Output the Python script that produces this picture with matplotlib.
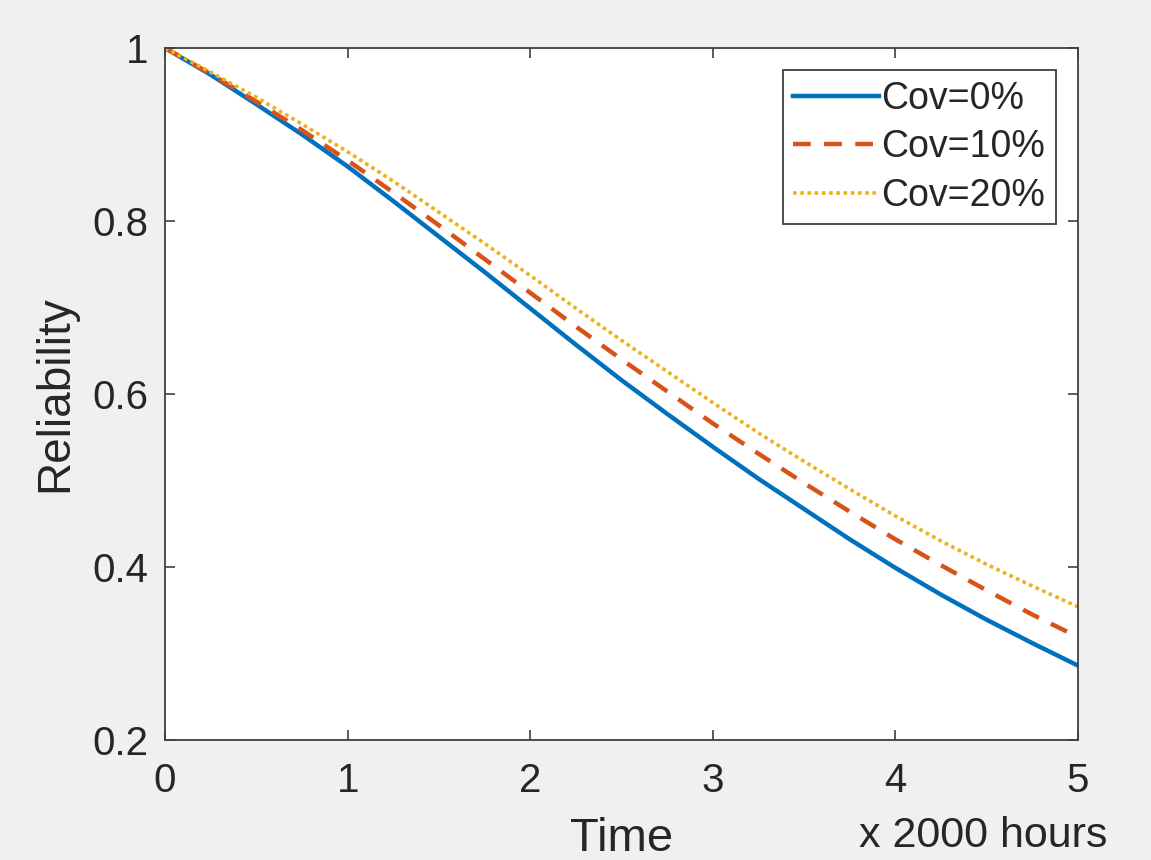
import numpy as np
import matplotlib.pyplot as plt

plt.rcParams['font.family'] = ['Liberation Sans', 'DejaVu Sans']

# Tiempo (x 2000 horas)
t = [0, 0.25, 0.5, 0.75, 1, 1.25, 1.5, 1.75, 2, 2.25, 2.5,
     2.75, 3, 3.25, 3.5, 3.75, 4, 4.25, 4.5, 4.75, 5]

# Fiabilidad
r_cov0 = [1.000, 0.969, 0.935, 0.900, 0.863, 0.823, 0.782, 0.741, 0.699, 0.657, 0.616,
          0.577, 0.539, 0.502, 0.467, 0.432, 0.399, 0.368, 0.339, 0.312, 0.286]
r_cov10 = [1.000, 0.970, 0.938, 0.905, 0.870, 0.833, 0.795, 0.756, 0.717, 0.678, 0.640,
           0.603, 0.566, 0.531, 0.497, 0.464, 0.432, 0.402, 0.373, 0.345, 0.319]
r_cov20 = [1.000, 0.972, 0.943, 0.912, 0.880, 0.846, 0.810, 0.774, 0.737, 0.699, 0.662,
           0.626, 0.590, 0.555, 0.522, 0.490, 0.459, 0.430, 0.403, 0.378, 0.354]
labels = ['Cov=0%', 'Cov=10%', 'Cov=20%']

fig = plt.figure(figsize=(11.51, 8.6), dpi=100, facecolor='#f0f0f0')
ax = fig.add_axes([0.1434, 0.1395, 0.7932, 0.8047])
ax.set_facecolor('white')

ax.plot(t, r_cov0, color='#0072BD', lw=3.2, label=labels[0])
ax.plot(t, r_cov10, color='#D95319', lw=3.2, dashes=(4, 3), label=labels[1])
ax.plot(t, r_cov20, color='#EDB120', lw=2.6, linestyle=(0, (1, 1)), label=labels[2])

ax.set_xlim(0, 5)
ax.set_ylim(0.2, 1)
ax.set_xticks([0, 1, 2, 3, 4, 5])
ax.set_yticks([0.2, 0.4, 0.6, 0.8, 1])
ax.set_yticklabels(['0.2', '0.4', '0.6', '0.8', '1'])

for s in ax.spines.values():
    s.set_color('#404040')
    s.set_linewidth(1.3)
ax.tick_params(direction='in', length=7, width=1.2, color='#404040',
               top=True, right=True, labelsize=29, labelcolor='#262626')
ax.tick_params(axis='x', pad=16)
ax.tick_params(axis='y', pad=12)

ax.set_xlabel('Time', fontsize=34, color='#262626', labelpad=12)
ax.set_ylabel('Reliability', fontsize=33, color='#262626', labelpad=11)
fig.text(0.9618, 0.0150, 'x 2000 hours', fontsize=31, color='#262626',
         ha='right', va='baseline')

leg = ax.legend(loc='upper right', fontsize=27, handlelength=2.3, handletextpad=0.05,
                labelspacing=0.33, borderpad=0.28, borderaxespad=0.6,
                fancybox=False, framealpha=1)
leg.get_frame().set_edgecolor('#404040')
leg.get_frame().set_linewidth(1.3)
for txt in leg.get_texts():
    txt.set_color('#262626')

fig.savefig('out.png', dpi=100, facecolor=fig.get_facecolor())
